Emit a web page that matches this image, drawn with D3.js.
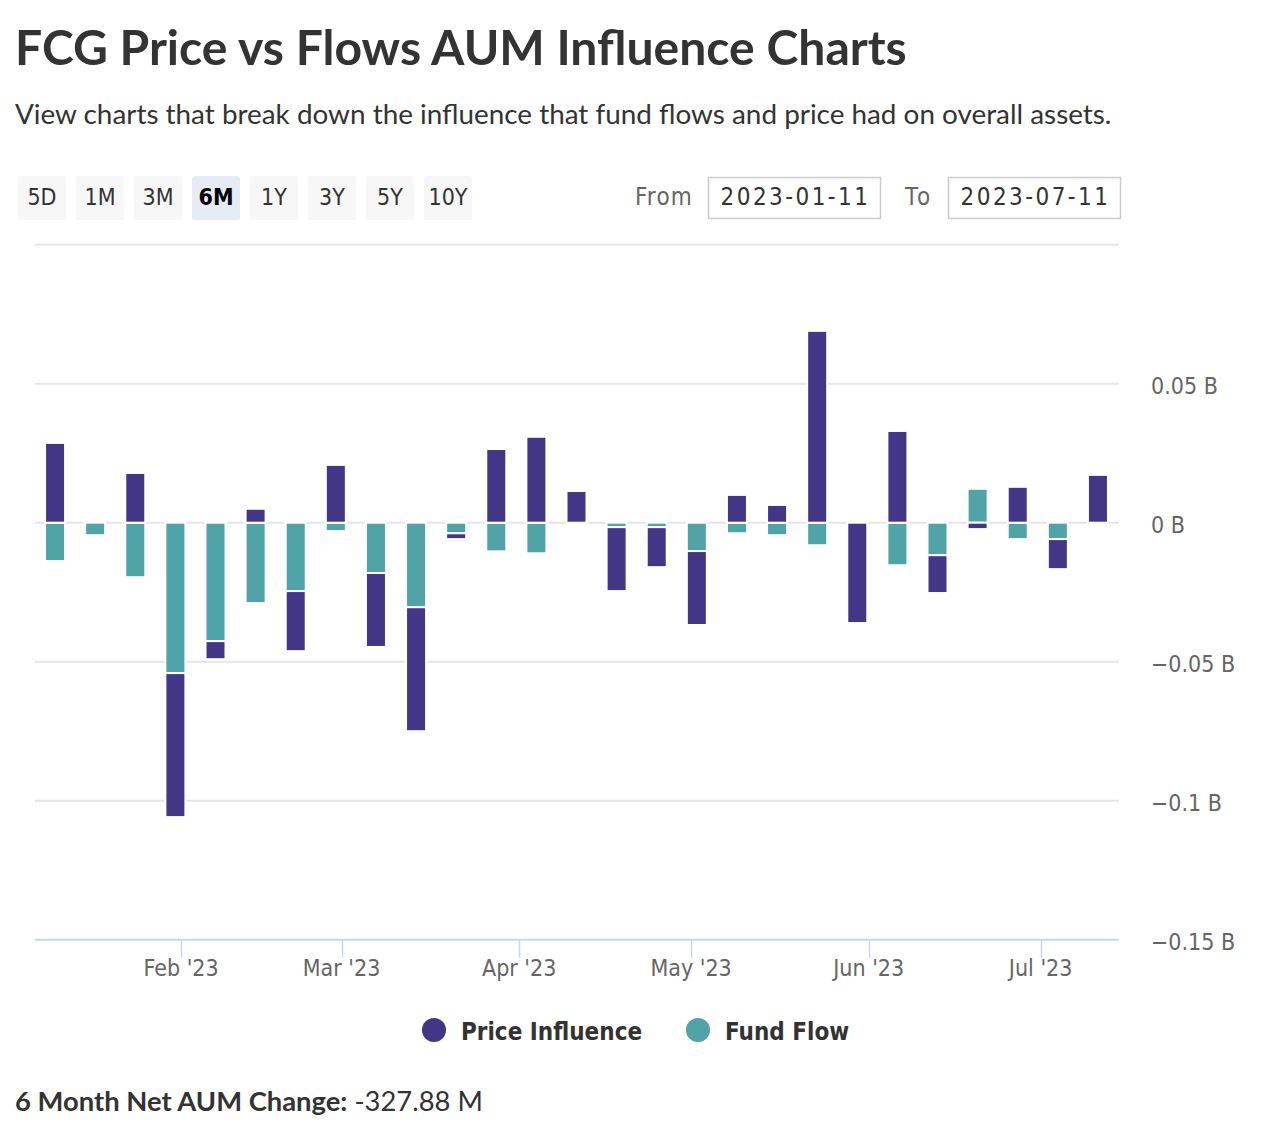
<!DOCTYPE html>
<html>
<head>
<meta charset="utf-8">
<script src="https://cdn.jsdelivr.net/npm/d3@7"></script>
<style>
  html, body { margin: 0; padding: 0; background: #fff; }
  svg { display: block; }
  .cond { font-family: "DejaVu Sans Condensed", "DejaVu Sans", sans-serif; font-stretch: condensed; }
  .head { font-family: "Lato", "Open Sans", sans-serif; }
</style>
</head>
<body>
<svg id="chart" width="1274" height="1142"></svg>
<script>
// ---------- data ----------
const weekDates = [
  "2023-01-10","2023-01-17","2023-01-24","2023-01-31","2023-02-07","2023-02-14","2023-02-21",
  "2023-02-28","2023-03-07","2023-03-14","2023-03-21","2023-03-28","2023-04-04","2023-04-11",
  "2023-04-18","2023-04-25","2023-05-02","2023-05-09","2023-05-16","2023-05-23","2023-05-30",
  "2023-06-06","2023-06-13","2023-06-20","2023-06-27","2023-07-04","2023-07-11"
];
// billions USD
const priceInfluence = [
  0.0287, 0, 0.0179, -0.0518, -0.0065, 0.0050, -0.0216,
  0.0208, -0.0266, -0.0446, -0.0021, 0.0265, 0.0309, 0.0114,
  -0.0230, -0.0144, -0.0266, 0.0100, 0.0064, 0.0690, -0.0361,
  0.0330, -0.0136, -0.0023, 0.0129, -0.0108, 0.0172
];
const fundFlow = [
  -0.0138, -0.0045, -0.0196, -0.0541, -0.0426, -0.0289, -0.0246,
  -0.0030, -0.0181, -0.0304, -0.0038, -0.0103, -0.0110, 0,
  -0.0016, -0.0016, -0.0102, -0.0038, -0.0045, -0.0081, 0,
  -0.0153, -0.0117, 0.0122, -0.0059, -0.0059, 0
];
const seriesNames = ["Price Influence", "Fund Flow"];
const seriesColors = ["#443686", "#50a3a6"];
const yTicks = [0.1, 0.05, 0, -0.05, -0.1, -0.15];
const yTickLabels = ["", "0.05 B", "0 B", "\u22120.05 B", "\u22120.1 B", "\u22120.15 B"];
const monthTicks = ["2023-02-01","2023-03-01","2023-04-01","2023-05-01","2023-06-01","2023-07-01"];
const monthLabels = ["Feb '23","Mar '23","Apr '23","May '23","Jun '23","Jul '23"];
const rangeButtons = ["5D","1M","3M","6M","1Y","3Y","5Y","10Y"];
const selectedRange = "6M";
const fromDate = "2023-01-11";
const toDate = "2023-07-11";
const titleText = "FCG Price vs Flows AUM Influence Charts";
const subtitleText = "View charts that break down the influence that fund flows and price had on overall assets.";
const netLabel = "6 Month Net AUM Change:";
const netValue = "-327.88 M";

// ---------- setup ----------
const svg = d3.select("#chart");
const parse = d3.utcParse("%Y-%m-%d");

function fitWidth(sel, target) {
  const w = sel.node().getComputedTextLength();
  const fs = parseFloat(sel.attr("font-size"));
  sel.attr("font-size", fs * target / w);
}
function spreadWidth(sel, target) {
  const w = sel.node().getComputedTextLength();
  const n = sel.text().length;
  sel.attr("letter-spacing", (target - w) / n);
}

// title / subtitle
const title = svg.append("text").attr("class", "head")
  .attr("x", 15).attr("y", 65).attr("font-size", 44).attr("font-weight", 700)
  .attr("fill", "#333").text(titleText);
fitWidth(title, 892);
const subtitle = svg.append("text").attr("class", "head")
  .attr("x", 15).attr("y", 124).attr("font-size", 25).attr("font-weight", 400)
  .attr("fill", "#333").text(subtitleText);
fitWidth(subtitle, 1097);

// range buttons
const btn = svg.append("g").selectAll("g").data(rangeButtons).join("g")
  .attr("transform", (d, i) => `translate(${18 + i * 58},176)`);
btn.append("rect").attr("width", 48).attr("height", 44).attr("rx", 3)
  .attr("fill", d => d === selectedRange ? "#e6ebf5" : "#f7f7f7");
btn.append("text").attr("class", "cond")
  .attr("x", 24).attr("y", 29).attr("text-anchor", "middle")
  .attr("font-size", 23)
  .attr("font-weight", d => d === selectedRange ? 700 : 400)
  .attr("fill", d => d === selectedRange ? "#000" : "#333")
  .text(d => d);

// date inputs
const fromT = svg.append("text").attr("class", "cond").attr("x", 635).attr("y", 205)
  .attr("font-size", 24).attr("fill", "#666").text("From");
spreadWidth(fromT, 58);
const toT = svg.append("text").attr("class", "cond").attr("x", 905).attr("y", 205)
  .attr("font-size", 24).attr("fill", "#666").text("To");
spreadWidth(toT, 28);
[[708.5, fromDate], [948.5, toDate]].forEach(([x, t]) => {
  svg.append("rect").attr("x", x).attr("y", 177.5).attr("width", 172).attr("height", 41)
    .attr("fill", "#fff").attr("stroke", "#ccc").attr("stroke-width", 1.5);
  const tt = svg.append("text").attr("class", "cond").attr("x", x + 12).attr("y", 205)
    .attr("font-size", 24).attr("fill", "#333").text(t);
  spreadWidth(tt, 150);
});

// ---------- chart ----------
const plotLeft = 35, plotRight = 1119;
const x = d3.scaleUtc()
  .domain([new Date(Date.UTC(2023, 0, 6, 12)), new Date(Date.UTC(2023, 6, 14, 12))])
  .range([35, 1118]);
const y = d3.scaleLinear().domain([-0.15, 0.1]).range([939.7, 244.7]);

// gridlines
svg.append("g").selectAll("line").data(yTicks.slice(0, -1)).join("line")
  .attr("x1", plotLeft).attr("x2", plotRight)
  .attr("y1", d => y(d)).attr("y2", d => y(d))
  .attr("stroke", "#e6e6e6").attr("stroke-width", 2);

// y labels
svg.append("g").selectAll("text").data(yTicks.map((d, i) => [d, yTickLabels[i]]).filter(d => d[1])).join("text")
  .attr("class", "cond")
  .attr("x", 1151).attr("y", d => y(d[0]) + 10)
  .attr("font-size", 23).attr("fill", "#666").text(d => d[1]);

// stacked bars
const rows = weekDates.map((d, i) => ({ date: parse(d), flow: fundFlow[i], price: priceInfluence[i] }));
const stack = d3.stack().keys(["flow", "price"]).offset(d3.stackOffsetDiverging);
const stacked = stack(rows);
const colorOf = { price: seriesColors[0], flow: seriesColors[1] };
const barW = 20;
svg.append("g").selectAll("g").data(stacked).join("g")
  .attr("fill", s => colorOf[s.key])
  .selectAll("rect").data(s => s.filter(p => p[1] !== p[0])).join("rect")
  .attr("x", p => x(p.data.date) - barW / 2)
  .attr("width", barW)
  .attr("y", p => y(Math.max(p[0], p[1])))
  .attr("height", p => Math.abs(y(p[0]) - y(p[1])))
  .attr("stroke", "#fff").attr("stroke-width", 2);

// x axis
const xAxisG = svg.append("g");
xAxisG.append("line").attr("x1", plotLeft).attr("x2", plotRight)
  .attr("y1", y(-0.15)).attr("y2", y(-0.15)).attr("stroke", "#ccd6eb").attr("stroke-width", 2);
const mt = monthTicks.map((d, i) => ({ date: parse(d), label: monthLabels[i] }));
xAxisG.selectAll(".tick").data(mt).join("line")
  .attr("x1", d => Math.round(x(d.date)) + 0.5).attr("x2", d => Math.round(x(d.date)) + 0.5)
  .attr("y1", y(-0.15)).attr("y2", y(-0.15) + 18)
  .attr("stroke", "#ccd6eb").attr("stroke-width", 1.5);
xAxisG.selectAll("text").data(mt).join("text")
  .attr("class", "cond")
  .attr("x", d => x(d.date)).attr("y", 976)
  .attr("text-anchor", "middle").attr("font-size", 23).attr("fill", "#666")
  .text(d => d.label);

// legend
const legendPos = [434, 698];
const lg = svg.append("g").selectAll("g").data(seriesNames).join("g")
  .attr("transform", (d, i) => `translate(${legendPos[i]},1030)`);
lg.append("circle").attr("r", 12).attr("fill", (d, i) => seriesColors[i]);
lg.append("text").attr("class", "cond").attr("x", 27).attr("y", 10)
  .attr("font-size", 24).attr("font-weight", 700).attr("fill", "#333").text(d => d);

// bottom summary
const net = svg.append("text").attr("class", "head").attr("x", 15).attr("y", 1111)
  .attr("font-size", 25).attr("fill", "#333");
net.append("tspan").attr("font-weight", 700).text(netLabel);
net.append("tspan").attr("font-weight", 400).text(" " + netValue);
fitWidth(net, 468);
</script>
</body>
</html>
